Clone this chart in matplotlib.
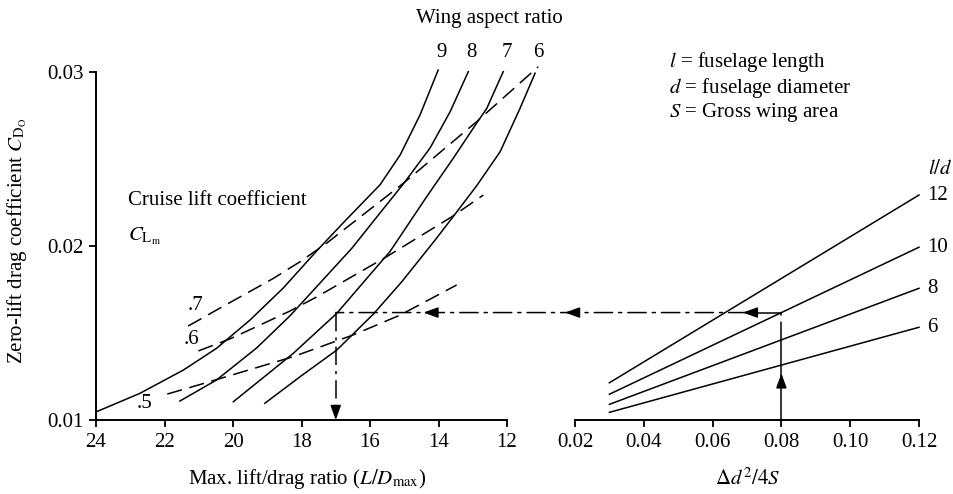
import numpy as np
import matplotlib
matplotlib.use("Agg")
import matplotlib.pyplot as plt
from matplotlib.patches import ConnectionPatch

plt.rcParams['font.family'] = ['Liberation Serif', 'DejaVu Serif']
plt.rcParams['mathtext.fontset'] = 'stix'

# ---- Left panel: wing aspect-ratio curves, (L/D)max vs CD0 ----
ar_labels = ["9", "8", "7", "6"]
ar9_ld = [23.98, 22.72, 21.45, 20.48, 19.50, 18.53, 17.56, 16.73, 15.71, 15.12, 14.54, 14.01]
ar9_cd = [0.01048, 0.01153, 0.01287, 0.01412, 0.01575, 0.01759, 0.01971, 0.02144,
          0.02351, 0.02523, 0.02753, 0.03011]
ar8_ld = [21.55, 20.48, 19.31, 18.34, 16.53, 15.80, 15.03, 14.25, 13.66, 13.13]
ar8_cd = [0.01109, 0.01230, 0.01414, 0.01598, 0.01987, 0.02167, 0.02356, 0.02562,
          0.02772, 0.03002]
ar7_ld = [19.99, 19.02, 18.24, 16.97, 15.80, 15.42, 14.35, 13.57, 12.89, 12.59, 12.11]
ar7_cd = [0.01105, 0.01259, 0.01383, 0.01613, 0.01881, 0.01967, 0.02282, 0.02504,
          0.02705, 0.02791, 0.03002]
ar6_ld = [19.07, 18.04, 16.97, 15.90, 15.07, 14.10, 13.61, 12.89, 12.20, 11.62, 11.18]
ar6_cd = [0.01096, 0.01249, 0.01402, 0.01609, 0.01795, 0.02034, 0.02159, 0.02345,
          0.02542, 0.02791, 0.02993]

# Cruise lift coefficient lines (dashed)
cl_labels = [".5", ".6", ".7"]
cl5_ld = [21.92, 20.96, 19.99, 18.24, 16.49, 15.12, 13.47]
cl5_cd = [0.01149, 0.01204, 0.01261, 0.01364, 0.01489, 0.01603, 0.01776]
cl6_ld = [21.01, 20.09, 19.21, 18.34, 17.56, 15.51, 13.61, 12.69]
cl6_cd = [0.01397, 0.01466, 0.01546, 0.01626, 0.01707, 0.01939, 0.02168, 0.02293]
cl7_ld = [21.31, 20.48, 18.82, 18.04, 17.26, 15.03, 12.89, 11.09]
cl7_cd = [0.01540, 0.01632, 0.01814, 0.01910, 0.02017, 0.02360, 0.02714, 0.03030]

# ---- Right panel: fuselage l/d lines, Δd²/4S vs CD0 ----
ld_labels = ["12", "10", "8", "6"]
area_ratio = [0.03, 0.12]
fus12_cd = [0.01214, 0.02293]
fus10_cd = [0.01148, 0.01993]
fus8_cd = [0.01090, 0.01757]
fus6_cd = [0.01044, 0.01533]

# Worked example
example_area = 0.08
example_ld = 17.0

left_xticks = [24, 22, 20, 18, 16, 14, 12]
right_xticks = [0.02, 0.04, 0.06, 0.08, 0.10, 0.12]
right_xticklabels = ["0.02", "0.04", "0.06", "0.08", "0.10", "0.12"]
yticks = [0.01, 0.02, 0.03]
yticklabels = ["0.01", "0.02", "0.03"]

W, H = 954, 494
fig = plt.figure(figsize=(W / 100, H / 100), dpi=100)

def fx(px):
    return px / W

def fy(py):
    return 1 - py / H

FS = 15
LW = 1.1
DASH = (0, (10, 5))
DASHDOT = (0, (12, 4, 2, 4))

ylim = (0.01, 0.031)
bottom = fy(420)
height = (420 - 54.6) / H
axL = fig.add_axes([fx(96), bottom, 13.2 * 34.25 / W, height])
axR = fig.add_axes([fx(575), bottom, (919 - 575) / W, height])

for ax in (axL, axR):
    ax.set_ylim(*ylim)
    ax.spines['top'].set_visible(False)
    ax.spines['right'].set_visible(False)
    ax.spines['bottom'].set_linewidth(1.4)
    ax.spines['left'].set_linewidth(1.4)
    ax.tick_params(direction='out', length=5, width=1.3, labelsize=FS, pad=4)
    ax.patch.set_visible(False)

axL.set_xlim(24, 10.8)
axL.spines['bottom'].set_bounds(12, 24)
axL.spines['left'].set_bounds(0.01, 0.03)
axL.set_xticks(left_xticks)
axL.set_xticklabels([str(v) for v in left_xticks])
axL.set_yticks(yticks)
axL.set_yticklabels(yticklabels)

axR.set_xlim(0.02, 0.12)
axR.spines['left'].set_visible(False)
axR.set_yticks([])
axR.set_xticks(right_xticks)
axR.set_xticklabels(right_xticklabels)

# aspect-ratio curves
ar_curves = [(ar9_ld, ar9_cd), (ar8_ld, ar8_cd), (ar7_ld, ar7_cd), (ar6_ld, ar6_cd)]
for lab, (xs, ys) in zip(ar_labels, ar_curves):
    axL.plot(xs, ys, color='black', lw=LW, clip_on=False, solid_joinstyle='round')
    axL.text(xs[-1] - 0.1, 0.0311, lab, fontsize=FS, ha='center', va='center')

# cruise lift coefficient lines
cl_lines = [(cl5_ld, cl5_cd), (cl6_ld, cl6_cd), (cl7_ld, cl7_cd)]
cl_label_pos = [(145, 403), (191, 340), (196, 305)]
for lab, (xs, ys), (px, py) in zip(cl_labels, cl_lines, cl_label_pos):
    axL.plot(xs, ys, color='black', lw=LW, linestyle=DASH, clip_on=False)
    fig.text(fx(px), fy(py), lab, fontsize=FS, ha='center', va='center')

# fuselage l/d lines
fus_lines = [fus12_cd, fus10_cd, fus8_cd, fus6_cd]
for lab, ys in zip(ld_labels, fus_lines):
    axR.plot(area_ratio, ys, color='black', lw=LW, clip_on=False)
    axR.text(0.1225, ys[-1], lab, fontsize=FS, ha='left', va='center')
axR.text(0.1225, 0.0244, r"$l/d$", fontsize=FS, ha='left', va='center')

# worked example path
cd_read = np.interp(example_area, area_ratio, fus10_cd)
cd_l8 = np.interp(example_area, area_ratio, fus8_cd)

def arrow(ax, tip, tail):
    ax.annotate("", xy=tip, xytext=tail,
                arrowprops=dict(arrowstyle="-|>,head_length=0.55,head_width=0.2",
                                mutation_scale=16, color='black', lw=LW,
                                shrinkA=0, shrinkB=0),
                annotation_clip=False)

axR.plot([example_area, example_area], [0.01, cd_l8], color='black', lw=LW, clip_on=False)
axR.plot([example_area, example_area], [cd_l8, cd_read], color='black', lw=LW,
         linestyle=DASHDOT)
arrow(axR, (example_area, 0.01268), (example_area, 0.01200))
axR.plot([example_area, 0.070], [cd_read, cd_read], color='black', lw=LW)
arrow(axR, (0.0688, cd_read), (0.0723, cd_read))

con = ConnectionPatch(xyA=(0.070, cd_read), coordsA=axR.transData,
                      xyB=(example_ld, cd_read), coordsB=axL.transData,
                      linestyle=DASHDOT, lw=LW, color='black')
fig.add_artist(con)
arrow(axR, (0.0171, cd_read), (0.0206, cd_read))
arrow(axL, (14.44, cd_read), (14.09, cd_read))

axL.plot([example_ld, example_ld], [cd_read, 0.0107], color='black', lw=LW,
         linestyle=DASHDOT)
arrow(axL, (example_ld, 0.0100), (example_ld, 0.0107))

# text annotations
fig.text(fx(489), fy(18), "Wing aspect ratio", fontsize=FS, ha='center', va='center')
fig.text(fx(128), fy(200), "Cruise lift coefficient", fontsize=FS, ha='left', va='center')
fig.text(fx(128), fy(236), r"$C_{\rm L_m}$", fontsize=FS, ha='left', va='center')
fig.text(fx(669), fy(62), r"$l$ = fuselage length", fontsize=FS, ha='left', va='center')
fig.text(fx(669), fy(88), r"$d$ = fuselage diameter", fontsize=FS, ha='left', va='center')
fig.text(fx(669), fy(113), r"$S$ = Gross wing area", fontsize=FS, ha='left', va='center')

fig.text(fx(17), fy(241), r"Zero-lift drag coefficient $C_{\rm D_O}$", fontsize=FS,
         rotation=90, ha='center', va='center')
fig.text(fx(307), fy(479), r"Max. lift/drag ratio ($L/D_{\rm max}$)", fontsize=FS,
         ha='center', va='center')
fig.text(fx(748), fy(479), r"$\Delta d^2/4S$", fontsize=FS, ha='center', va='center')

fig.savefig("out.png", dpi=100)
